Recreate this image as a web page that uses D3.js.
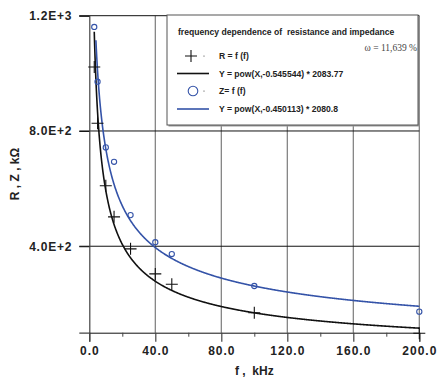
<!DOCTYPE html>
<html>
<head>
<meta charset="utf-8">
<script src="https://cdn.jsdelivr.net/npm/d3@7"></script>
<style>
  body { margin: 0; background: #fff; }
  text { font-family: "Liberation Sans", Arial, sans-serif; }
</style>
</head>
<body>
<div id="chart"></div>
<script>
// measured data, f in kHz
const freqR = [3, 5, 10, 15, 25, 40, 50, 100, 200];
const resistance = [1022, 827, 610, 502, 391, 304, 268, 169, 98];
const freqZ = [3, 5, 10, 15, 25, 40, 50, 100, 200];
const impedance = [1161, 971, 743, 693, 508, 414, 373, 262, 173];

// power fits as printed in the legend: Y = a * X^b
const fitR = { a: 2083.77, b: -0.545544, from: 3, to: 200 };
const fitZ = { a: 2080.8, b: -0.450113, from: 4, to: 200 };

const xTicks = [0, 40, 80, 120, 160, 200];
const xMinor = [20, 60, 100, 140, 180];
const yTicks = [400, 800, 1200];

const width = 438, height = 378;
const blue = '#3453a8';

const svg = d3.select('#chart').append('svg')
  .attr('width', width).attr('height', height);

const x = d3.scaleLinear([0, 200], [89.3, 419.3]);
const y = d3.scaleLinear([100, 1200], [332.7, 15.7]);

// vertical grid
svg.append('g').selectAll('line')
  .data(xTicks.slice(1))
  .join('line')
  .attr('x1', d => x(d)).attr('x2', d => x(d))
  .attr('y1', y(100)).attr('y2', y(1200))
  .attr('stroke', '#7a7a7a').attr('stroke-width', 1.2);

// horizontal grid
svg.append('g').selectAll('line')
  .data(yTicks)
  .join('line')
  .attr('x1', x(0) - 10).attr('x2', x(200))
  .attr('y1', d => y(d)).attr('y2', d => y(d))
  .attr('stroke', '#111').attr('stroke-width', 1);

// x axis
const xAxis = svg.append('g')
  .attr('transform', `translate(0,${y(100)})`)
  .call(d3.axisBottom(x).tickValues(xTicks).tickSize(9).tickPadding(5)
    .tickFormat(d3.format('.1f')));
xAxis.select('.domain').attr('stroke', '#111');
xAxis.selectAll('.tick line').attr('stroke', '#444').attr('stroke-width', 1.2);
xAxis.selectAll('text')
  .attr('font-size', 12).attr('font-weight', 'bold')
  .attr('letter-spacing', 1).attr('fill', '#222');

svg.append('g')
  .attr('transform', `translate(0,${y(100)})`)
  .call(d3.axisBottom(x).tickValues(xMinor).tickSize(4).tickFormat(''))
  .call(g => g.select('.domain').remove())
  .selectAll('.tick line').attr('stroke', '#444');

// y axis
const yAxis = svg.append('g')
  .attr('transform', `translate(${x(0)},0)`)
  .call(d3.axisLeft(y).tickValues(yTicks).tickSize(10).tickPadding(7)
    .tickFormat(d => d3.format('.1e')(d).toUpperCase()));
yAxis.select('.domain').attr('stroke', '#444').attr('stroke-width', 1.2);
yAxis.selectAll('.tick line').attr('stroke', '#111');
yAxis.selectAll('text')
  .attr('font-size', 12).attr('font-weight', 'bold')
  .attr('letter-spacing', 0.8).attr('fill', '#222');

// axis titles
svg.append('text')
  .attr('x', x(100)).attr('y', 375)
  .attr('text-anchor', 'middle')
  .attr('font-size', 12).attr('font-weight', 'bold').attr('fill', '#222')
  .attr('xml:space', 'preserve')
  .text('f ,  kHz');

svg.append('text')
  .attr('transform', 'translate(19,174) rotate(-90)')
  .attr('text-anchor', 'middle')
  .attr('font-size', 12).attr('font-weight', 'bold').attr('fill', '#222')
  .text('R , Z , kΩ');

// fitted curves
function curve(fit) {
  const pts = d3.range(fit.from, fit.to + 0.01, 0.25).map(f => [f, fit.a * Math.pow(f, fit.b)]);
  return d3.line().x(d => x(d[0])).y(d => y(d[1]))(pts);
}
svg.append('path').attr('d', curve(fitR))
  .attr('fill', 'none').attr('stroke', '#111').attr('stroke-width', 1.6);
svg.append('path').attr('d', curve(fitZ))
  .attr('fill', 'none').attr('stroke', blue).attr('stroke-width', 1.6);

// markers
const cross = (g, cx, cy, s) => g.append('path')
  .attr('d', `M${cx - s},${cy}H${cx + s}M${cx},${cy - s}V${cy + s}`)
  .attr('stroke', '#111').attr('stroke-width', 1.1).attr('fill', 'none');

const gR = svg.append('g');
freqR.forEach((f, i) => cross(gR, x(f), y(resistance[i]), 6));

svg.append('g').selectAll('circle')
  .data(freqZ)
  .join('circle')
  .attr('cx', d => x(d)).attr('cy', (d, i) => y(impedance[i]))
  .attr('r', 2.6)
  .attr('fill', 'none').attr('stroke', blue).attr('stroke-width', 1.1);

// legend
const lg = svg.append('g');
lg.append('rect').attr('x', 168.5).attr('y', 16.5).attr('width', 251).attr('height', 110)
  .attr('fill', '#999');
lg.append('rect').attr('x', 167).attr('y', 15).attr('width', 251).attr('height', 110)
  .attr('fill', '#fff').attr('stroke', '#555').attr('stroke-width', 1);

lg.append('text').attr('x', 178).attr('y', 35)
  .attr('font-size', 8.6).attr('font-weight', 'bold').attr('fill', '#222')
  .attr('xml:space', 'preserve')
  .text('frequency dependence of  resistance and impedance');

lg.append('text').attr('x', 417).attr('y', 51)
  .attr('text-anchor', 'end')
  .style('font-family', '"Liberation Serif", "Times New Roman", serif')
  .attr('font-size', 9.5).attr('fill', '#444')
  .text('ω = 11,639 %');

const rows = [56, 73.5, 91, 109];
const labels = ['R = f (f)', 'Y = pow(X,-0.545544) * 2083.77', 'Z= f (f)', 'Y = pow(X,-0.450113) * 2080.8'];
lg.selectAll('text.lab')
  .data(labels)
  .join('text')
  .attr('class', 'lab')
  .attr('x', 219).attr('y', (d, i) => rows[i] + 3)
  .attr('font-size', 8.6).attr('font-weight', 'bold').attr('fill', '#222')
  .text(d => d);

cross(lg, 191, rows[0], 6);
lg.append('circle').attr('cx', 193).attr('cy', rows[2]).attr('r', 4.8)
  .attr('fill', 'none').attr('stroke', blue).attr('stroke-width', 1.1);
[rows[0], rows[2]].forEach(r => lg.append('circle')
  .attr('cx', 204).attr('cy', r).attr('r', 0.6).attr('fill', '#333'));
lg.append('line').attr('x1', 177).attr('x2', 209).attr('y1', rows[1]).attr('y2', rows[1])
  .attr('stroke', '#111').attr('stroke-width', 1.6);
lg.append('line').attr('x1', 177).attr('x2', 209).attr('y1', rows[3]).attr('y2', rows[3])
  .attr('stroke', blue).attr('stroke-width', 1.6);
</script>
</body>
</html>
